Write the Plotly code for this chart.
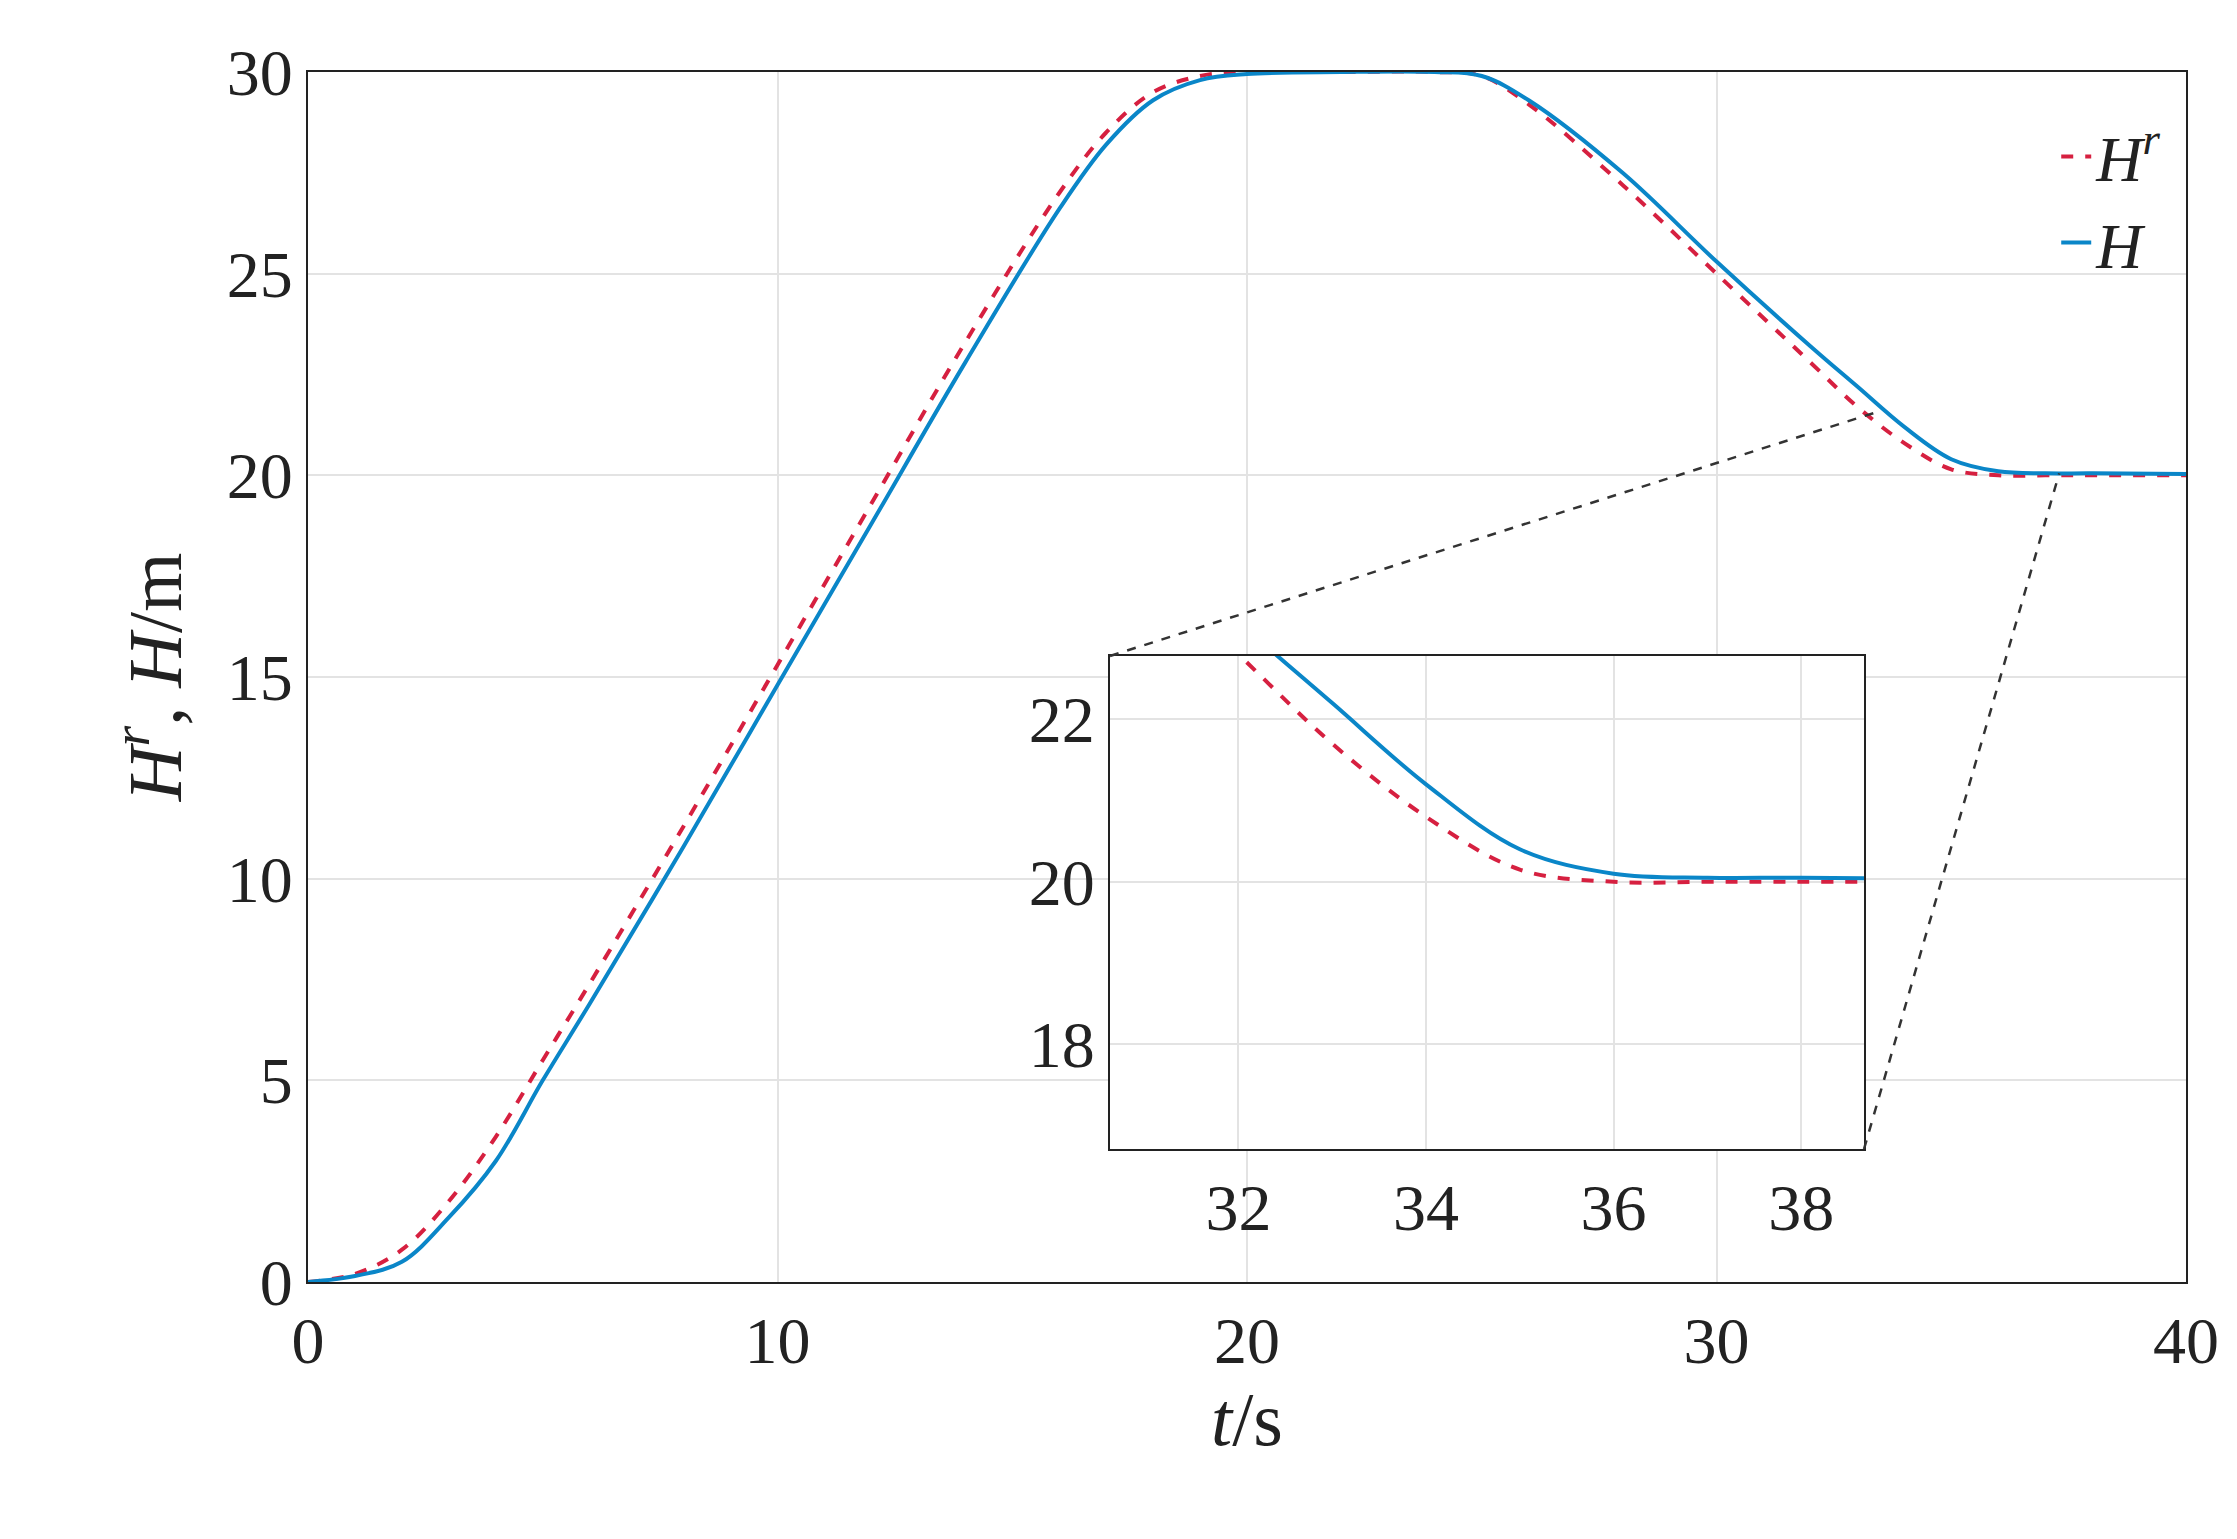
import plotly.graph_objects as go

t = [0,1,2,3,4,5,6,8,10,12,14,16,17,18,19,20,22,24,25,26,28,30,32,33,34,35,36,37,38,40]
Hr = [0,0.2,0.8,2.0,3.6,5.5,7.4,11.3,15.3,19.3,23.3,27.0,28.5,29.5,29.9,30,30,30,29.9,29.2,27.2,25.0,22.8,21.7,20.8,20.15,20.0,20.0,20.0,20.0]
H = [0,0.15,0.5,1.6,3.0,5.0,6.9,10.8,14.8,18.8,22.8,26.6,28.2,29.3,29.8,29.95,30,30,29.9,29.3,27.5,25.3,23.2,22.2,21.2,20.4,20.1,20.05,20.05,20.03]

W, Hh = 2237, 1539
L, R, T, B = 300, 2178, 64, 1274
IL, IR, IT, IB = 1102, 1856, 648, 1141
red = "#d62040"; blue = "#0a86c8"
font = "Liberation Serif"

fig = go.Figure()
for xa, ya, leg in [("x", "y", True), ("x2", "y2", False)]:
    fig.add_trace(go.Scatter(x=t, y=Hr, mode="lines", line=dict(color=red, dash="dash", width=4, shape="spline"),
                             name="<i>H</i><sup><i>r</i></sup>", xaxis=xa, yaxis=ya, showlegend=leg))
    fig.add_trace(go.Scatter(x=t, y=H, mode="lines", line=dict(color=blue, width=4, shape="spline"),
                             name="<i>H</i>", xaxis=xa, yaxis=ya, showlegend=leg))

px = lambda x: (x - L) / (R - L)
py = lambda y: (B - y) / (B - T)
ax = dict(showline=True, linecolor="#222", linewidth=2, mirror=True, showgrid=True, gridcolor="#e3e3e3",
          gridwidth=2, ticks="", zeroline=False, tickfont=dict(size=66, family=font, color="#222"))
fig.update_layout(
    width=W, height=Hh, paper_bgcolor="white", plot_bgcolor="white",
    margin=dict(l=L, r=W - R, t=T, b=Hh - B),
    xaxis=dict(ax, range=[0, 40], dtick=10, domain=[0, 1],
               title=dict(text="<i>t</i>/s", font=dict(size=76, family=font, color="#222"), standoff=10)),
    yaxis=dict(ax, range=[0, 30], dtick=5,
               title=dict(text="<i>H</i><sup><i>r</i></sup>, <i>H</i>/m", font=dict(size=76, family=font, color="#222"), standoff=20)),
    xaxis2=dict(ax, range=[30.63, 38.67], tickvals=[32, 34, 36, 38], anchor="y2",
                domain=[px(IL), px(IR)]),
    yaxis2=dict(ax, range=[16.71, 22.78], tickvals=[18, 20, 22], anchor="x2",
                domain=[py(IB), py(IT)]),
    legend=dict(x=0.99, y=0.97, xanchor="right", yanchor="top", bgcolor="rgba(255,255,255,0)",
                font=dict(size=64, family=font, color="#222")),
    font=dict(family=font),
)
def mx(v): return v / 40
def my(v): return v / 30
fig.add_shape(type="line", xref="paper", yref="paper", x0=px(IL), y0=py(IT), x1=mx(33.5), y1=my(21.6),
              line=dict(color="#333", dash="dash", width=2.5))
fig.add_shape(type="line", xref="paper", yref="paper", x0=px(IR), y0=py(IB), x1=mx(37.3), y1=my(20.05),
              line=dict(color="#333", dash="dash", width=2.5))
fig.write_html("out.html")
